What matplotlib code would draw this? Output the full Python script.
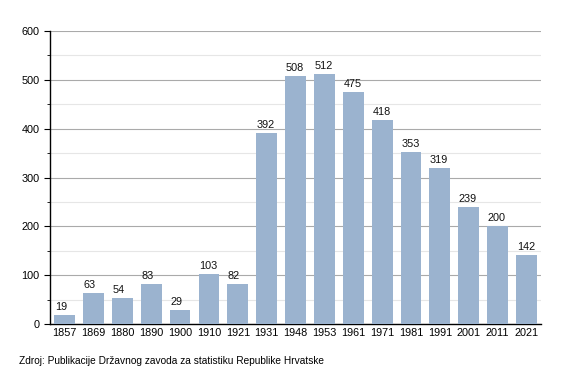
import matplotlib.pyplot as plt
from matplotlib.ticker import MultipleLocator

years = ['1857', '1869', '1880', '1890', '1900', '1910', '1921', '1931', '1948',
         '1953', '1961', '1971', '1981', '1991', '2001', '2011', '2021']
population = [19, 63, 54, 83, 29, 103, 82, 392, 508, 512, 475, 418, 353, 319, 239, 200, 142]

plt.rcParams['font.family'] = ['Liberation Sans', 'DejaVu Sans']

fig = plt.figure(figsize=(5.7, 3.73), dpi=100)
ax = fig.add_axes([0.088, 0.131, 0.861, 0.786])

x = list(range(len(years)))
width = 0.72
bars = ax.bar(x, population, width=width, color='#9bb3cf', zorder=3)

for xi, v in zip(x, population):
    ax.text(xi - width / 2 + 0.02, v + 6, str(v), ha='left', va='bottom', fontsize=7.8, color='#111111')

ax.set_xlim(-0.5, len(years) - 0.5)
ax.set_ylim(0, 600)
ax.set_xticks(x)
ax.set_xticklabels(years)
ax.yaxis.set_major_locator(MultipleLocator(100))
ax.yaxis.set_minor_locator(MultipleLocator(50))
ax.grid(axis='y', which='major', color='#aaaaaa', linewidth=0.8, zorder=0)
ax.grid(axis='y', which='minor', color='#e6e6e6', linewidth=0.8, zorder=0)

for side in ['top', 'right']:
    ax.spines[side].set_visible(False)
ax.spines['left'].set_linewidth(1.0)
ax.spines['bottom'].set_linewidth(1.0)
ax.tick_params(axis='x', length=0, labelsize=7.8, pad=3)
ax.tick_params(axis='y', which='major', length=4, labelsize=7.8)
ax.tick_params(axis='y', which='minor', length=2)

fig.text(0.034, 0.018, 'Zdroj: Publikacije Državnog zavoda za statistiku Republike Hrvatske',
         fontsize=7.3, ha='left', va='bottom')

fig.savefig('out.png', dpi=100)
